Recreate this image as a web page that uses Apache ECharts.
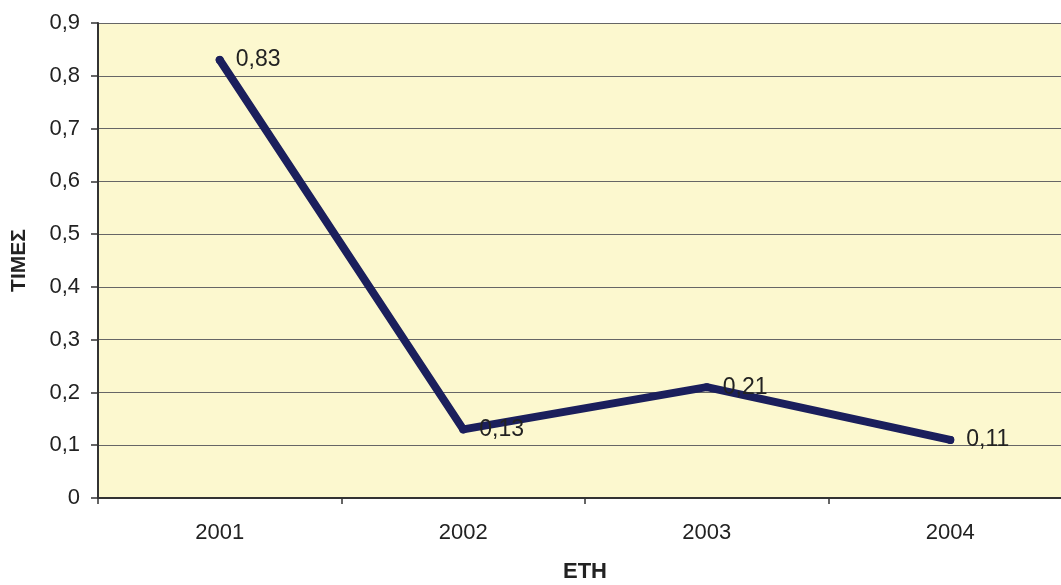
<!DOCTYPE html>
<html><head><meta charset="utf-8">
<script src="https://cdn.jsdelivr.net/npm/echarts@6/dist/echarts.min.js"></script>
<style>html,body{margin:0;padding:0;background:#fff;overflow:hidden}#c{width:1061px;height:585px}</style>
</head><body><div id="c"></div>
<script>
const years = ['2001', '2002', '2003', '2004'];
const values = [0.83, 0.13, 0.21, 0.11];
const yTicks = [0, 0.1, 0.2, 0.3, 0.4, 0.5, 0.6, 0.7, 0.8, 0.9];
const yAxisTitle = 'ΤΙΜΕΣ';
const xAxisTitle = 'ΕΤΗ';

const fmt = v => String(Math.round(v * 100) / 100).replace('.', ',');
const chart = echarts.init(document.getElementById('c'));
chart.setOption({
  animation: false,
  backgroundColor: '#ffffff',
  textStyle: { fontFamily: 'Liberation Sans, Arial, sans-serif' },
  grid: {
    left: 98, width: 974, top: 23, height: 475,
    containLabel: false, outerBoundsMode: 'none',
    show: true, backgroundColor: '#fcf8cf', borderWidth: 0
  },
  xAxis: {
    type: 'category', data: years, boundaryGap: true,
    name: xAxisTitle, nameLocation: 'middle', nameGap: 63,
    nameTextStyle: { fontSize: 22, fontWeight: 'bold', color: '#222' },
    axisLine: { lineStyle: { color: '#333', width: 2 } },
    axisTick: { show: true, length: 6, lineStyle: { color: '#333', width: 1.5 } },
    axisLabel: { fontSize: 22, color: '#222', margin: 24 }
  },
  yAxis: {
    type: 'value', min: yTicks[0], max: yTicks[yTicks.length - 1], interval: 0.1,
    name: yAxisTitle, nameLocation: 'middle', nameGap: 68, nameRotate: 90,
    nameTextStyle: { fontSize: 21, fontWeight: 'bold', color: '#222' },
    axisLine: { show: true, lineStyle: { color: '#333', width: 2 } },
    axisTick: { show: true, length: 7, lineStyle: { color: '#333', width: 1.5 } },
    axisLabel: { fontSize: 22, color: '#222', margin: 18, formatter: fmt },
    splitLine: { show: true, lineStyle: { color: '#666', width: 1.2 } }
  },
  series: [{
    type: 'line', data: values,
    symbol: 'circle', symbolSize: 8,
    itemStyle: { color: '#1b1f5c' },
    lineStyle: { color: '#1b1f5c', width: 8, cap: 'round', join: 'round' },
    label: {
      show: true, position: 'right', distance: 12, fontSize: 23, color: '#222',
      formatter: p => fmt(p.value)
    }
  }]
});
</script></body></html>
